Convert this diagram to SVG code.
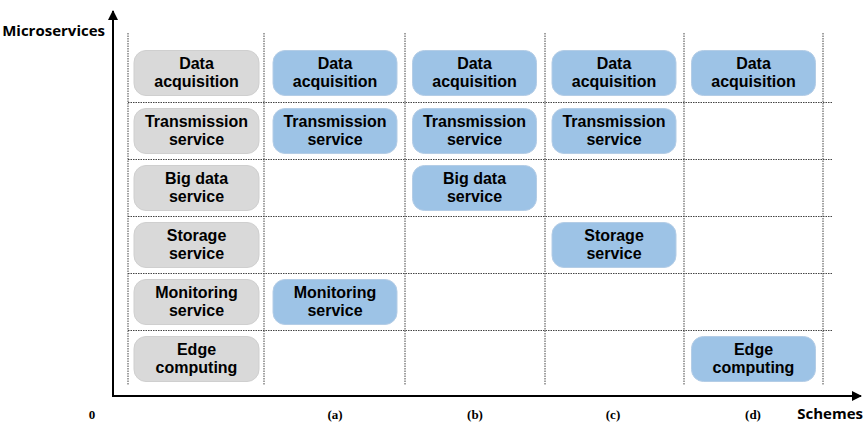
<svg xmlns="http://www.w3.org/2000/svg" width="865" height="424" viewBox="0 0 865 424">
  <defs>
    <marker id="arrow" viewBox="0 0 10 10" refX="9" refY="5" markerWidth="5" markerHeight="5" orient="auto" markerUnits="strokeWidth">
      <path d="M0,0 L10,5 L0,10 z" fill="#000"/>
    </marker>
  </defs>
  <style>
    .grid { stroke: #444; stroke-width: 1; stroke-dasharray: 1.5 1; fill: none; }
    .axis { stroke: #000; stroke-width: 2; fill: none; }
    .base { fill: #d9d9d9; stroke: #cfcfcf; stroke-width: 1; }
    .used { fill: #9dc3e6; stroke: #b4cde6; stroke-width: 1; }
    .lbl { font-family: "Liberation Sans", Arial, sans-serif; font-weight: bold; font-size: 16px; fill: #000; text-anchor: middle; }
    .ax { font-family: "Open Sans", "Liberation Sans", Arial, sans-serif; font-weight: bold; font-size: 15px; fill: #000; }
    .tick { font-family: "Liberation Serif", "Times New Roman", serif; font-weight: bold; font-size: 13px; fill: #000; text-anchor: middle; }
  </style>

  <!-- dotted grid -->
  <g id="grid">
    <line class="grid" x1="128" y1="33" x2="128" y2="385"/>
    <line class="grid" x1="264" y1="33" x2="264" y2="385"/>
    <line class="grid" x1="405" y1="33" x2="405" y2="385"/>
    <line class="grid" x1="545" y1="33" x2="545" y2="385"/>
    <line class="grid" x1="684" y1="33" x2="684" y2="385"/>
    <line class="grid" x1="823" y1="33" x2="823" y2="385"/>
    <line class="grid" x1="128" y1="102.5" x2="833" y2="102.5"/>
    <line class="grid" x1="128" y1="159.5" x2="833" y2="159.5"/>
    <line class="grid" x1="128" y1="216.5" x2="833" y2="216.5"/>
    <line class="grid" x1="128" y1="273.5" x2="833" y2="273.5"/>
    <line class="grid" x1="128" y1="330.5" x2="833" y2="330.5"/>
  </g>

  <!-- axes -->
  <g id="connectors">
    <line class="axis" x1="113" y1="396" x2="113" y2="11" marker-end="url(#arrow)"/>
    <line class="axis" x1="112" y1="396" x2="861" y2="396" marker-end="url(#arrow)"/>
  </g>

  <!-- axis labels -->
  <text x="105" y="36" class="ax" text-anchor="end">Microservices</text>
  <text x="863" y="419" class="ax" text-anchor="end">Schemes</text>
  <text x="92" y="419" class="tick">0</text>
  <text x="335" y="419" class="tick">(a)</text>
  <text x="475" y="419" class="tick">(b)</text>
  <text x="613" y="419" class="tick">(c)</text>
  <text x="753" y="419" class="tick">(d)</text>

  <!-- reference column -->
  <g id="base-data">
    <rect class="base" x="134" y="50.5" width="125" height="45" rx="12"/>
    <text class="lbl" x="196.5" y="69">Data</text>
    <text class="lbl" x="196.5" y="87">acquisition</text>
  </g>
  <g id="base-transmission">
    <rect class="base" x="134" y="108.5" width="125" height="45" rx="12"/>
    <text class="lbl" x="196.5" y="127">Transmission</text>
    <text class="lbl" x="196.5" y="145">service</text>
  </g>
  <g id="base-bigdata">
    <rect class="base" x="134" y="165.5" width="125" height="45" rx="12"/>
    <text class="lbl" x="196.5" y="184">Big data</text>
    <text class="lbl" x="196.5" y="202">service</text>
  </g>
  <g id="base-storage">
    <rect class="base" x="134" y="222.5" width="125" height="45" rx="12"/>
    <text class="lbl" x="196.5" y="241">Storage</text>
    <text class="lbl" x="196.5" y="259">service</text>
  </g>
  <g id="base-monitoring">
    <rect class="base" x="134" y="279.5" width="125" height="45" rx="12"/>
    <text class="lbl" x="196.5" y="298">Monitoring</text>
    <text class="lbl" x="196.5" y="316">service</text>
  </g>
  <g id="base-edge">
    <rect class="base" x="134" y="336.5" width="125" height="45" rx="12"/>
    <text class="lbl" x="196.5" y="355">Edge</text>
    <text class="lbl" x="196.5" y="373">computing</text>
  </g>

  <!-- scheme (a) -->
  <g id="a-data">
    <rect class="used" x="273" y="50.5" width="124" height="45" rx="12"/>
    <text class="lbl" x="335" y="69">Data</text>
    <text class="lbl" x="335" y="87">acquisition</text>
  </g>
  <g id="a-transmission">
    <rect class="used" x="273" y="108.5" width="124" height="45" rx="12"/>
    <text class="lbl" x="335" y="127">Transmission</text>
    <text class="lbl" x="335" y="145">service</text>
  </g>
  <g id="a-monitoring">
    <rect class="used" x="273" y="279.5" width="124" height="45" rx="12"/>
    <text class="lbl" x="335" y="298">Monitoring</text>
    <text class="lbl" x="335" y="316">service</text>
  </g>

  <!-- scheme (b) -->
  <g id="b-data">
    <rect class="used" x="412.5" y="50.5" width="124" height="45" rx="12"/>
    <text class="lbl" x="474.5" y="69">Data</text>
    <text class="lbl" x="474.5" y="87">acquisition</text>
  </g>
  <g id="b-transmission">
    <rect class="used" x="412.5" y="108.5" width="124" height="45" rx="12"/>
    <text class="lbl" x="474.5" y="127">Transmission</text>
    <text class="lbl" x="474.5" y="145">service</text>
  </g>
  <g id="b-bigdata">
    <rect class="used" x="412.5" y="165.5" width="124" height="45" rx="12"/>
    <text class="lbl" x="474.5" y="184">Big data</text>
    <text class="lbl" x="474.5" y="202">service</text>
  </g>

  <!-- scheme (c) -->
  <g id="c-data">
    <rect class="used" x="552" y="50.5" width="124" height="45" rx="12"/>
    <text class="lbl" x="614" y="69">Data</text>
    <text class="lbl" x="614" y="87">acquisition</text>
  </g>
  <g id="c-transmission">
    <rect class="used" x="552" y="108.5" width="124" height="45" rx="12"/>
    <text class="lbl" x="614" y="127">Transmission</text>
    <text class="lbl" x="614" y="145">service</text>
  </g>
  <g id="c-storage">
    <rect class="used" x="552" y="222.5" width="124" height="45" rx="12"/>
    <text class="lbl" x="614" y="241">Storage</text>
    <text class="lbl" x="614" y="259">service</text>
  </g>

  <!-- scheme (d) -->
  <g id="d-data">
    <rect class="used" x="691.5" y="50.5" width="124" height="45" rx="12"/>
    <text class="lbl" x="753.5" y="69">Data</text>
    <text class="lbl" x="753.5" y="87">acquisition</text>
  </g>
  <g id="d-edge">
    <rect class="used" x="691.5" y="336.5" width="124" height="45" rx="12"/>
    <text class="lbl" x="753.5" y="355">Edge</text>
    <text class="lbl" x="753.5" y="373">computing</text>
  </g>
</svg>
